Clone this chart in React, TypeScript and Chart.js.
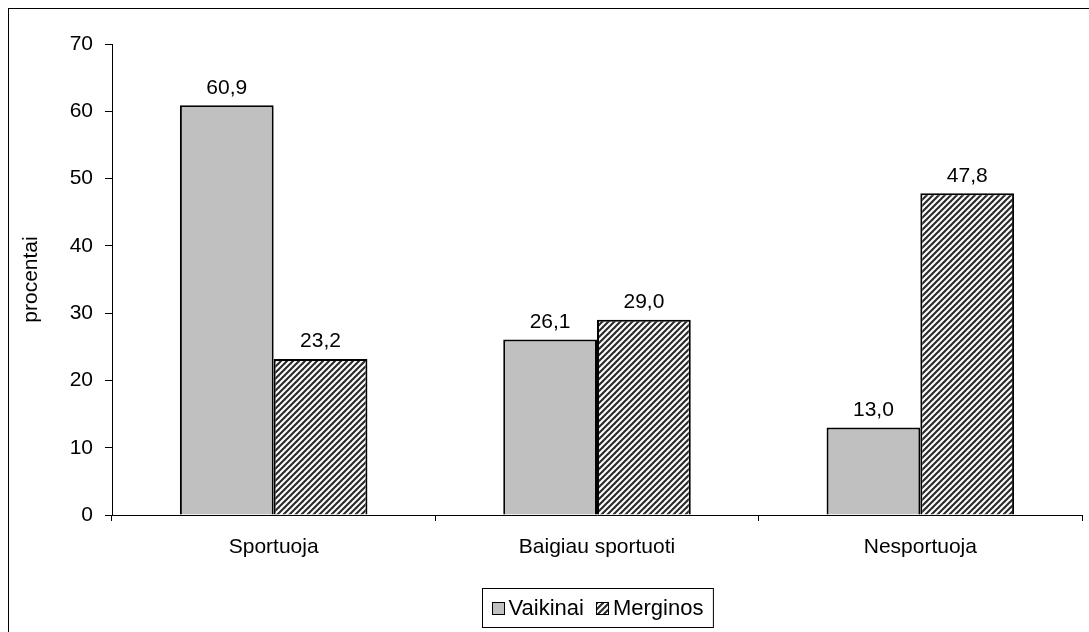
import React, { useEffect, useRef } from 'react';
import { Chart, registerables } from 'chart.js';

Chart.register(...registerables);

const categories = ['Sportuoja', 'Baigiau sportuoti', 'Nesportuoja'];
const seriesNames = ['Vaikinai', 'Merginos'];
const vaikinai = [60.9, 26.1, 13.0];
const merginos = [23.2, 29.0, 47.8];
const yAxisTitle = 'procentai';
const yMin = 0;
const yMax = 70;
const yStep = 10;

const FONT = '"Liberation Sans", Arial, sans-serif';

function makeHatch(): CanvasPattern | string {
  const s = 6;
  const c = document.createElement('canvas');
  c.width = s;
  c.height = s;
  const g = c.getContext('2d');
  if (!g) return '#888';
  g.fillStyle = '#ffffff';
  g.fillRect(0, 0, s, s);
  g.strokeStyle = '#2a2a2a';
  g.lineWidth = 2.1;
  for (const k of [-s, 0, s]) {
    g.beginPath();
    g.moveTo(k - 1, s + 1);
    g.lineTo(k + s + 1, -1);
    g.stroke();
  }
  return g.createPattern(c, 'repeat') || '#888';
}

const fmt = (v: number) => v.toFixed(1).replace('.', ',');

export default function App() {
  const ref = useRef<HTMLCanvasElement | null>(null);

  useEffect(() => {
    const canvas = ref.current;
    if (!canvas) return;
    const hatch = makeHatch();
    const gray = '#c0c0c0';

    const valueLabels = {
      id: 'valueLabels',
      afterDatasetsDraw(chart: any) {
        const ctx = chart.ctx;
        ctx.save();
        ctx.font = `21px ${FONT}`;
        ctx.fillStyle = '#000';
        ctx.textAlign = 'center';
        ctx.textBaseline = 'bottom';
        chart.data.datasets.forEach((ds: any, di: number) => {
          const meta = chart.getDatasetMeta(di);
          meta.data.forEach((el: any, i: number) => {
            ctx.fillText(fmt(ds.data[i]), el.x, el.y - 7);
          });
        });
        ctx.restore();
      },
    };

    const boxLegend = {
      id: 'boxLegend',
      afterDraw(chart: any) {
        const ctx = chart.ctx;
        const area = chart.chartArea;
        ctx.save();
        ctx.font = `22px ${FONT}`;
        const sq = 12;
        const gap = 5;
        const between = 12;
        const padL = 9;
        const padR = 10;
        const widths = seriesNames.map((n) => ctx.measureText(n).width);
        const total = padL + padR + widths.reduce((a, w) => a + sq + gap + w, 0) + between;
        const cx = (area.left + area.right) / 2;
        const left = Math.round(cx - total / 2) + 0.5;
        const top = 579.5;
        const h = 39;
        ctx.strokeStyle = '#000';
        ctx.lineWidth = 1;
        ctx.fillStyle = '#fff';
        ctx.fillRect(left, top, total, h);
        ctx.strokeRect(left, top, total, h);
        const cy = top + h / 2;
        let x = left + padL;
        const fills = [gray, hatch];
        seriesNames.forEach((n, i) => {
          ctx.fillStyle = fills[i] as any;
          const sy = Math.round(cy - sq / 2) + 0.5;
          ctx.fillRect(Math.round(x) + 0.5, sy, sq, sq);
          ctx.strokeStyle = '#000';
          ctx.strokeRect(Math.round(x) + 0.5, sy, sq, sq);
          x += sq + gap;
          ctx.fillStyle = '#000';
          ctx.textAlign = 'left';
          ctx.textBaseline = 'middle';
          ctx.fillText(n, x, cy + 1);
          x += widths[i] + between;
        });
        ctx.restore();
      },
    };

    const chart = new Chart(canvas, {
      type: 'bar',
      data: {
        labels: categories,
        datasets: [
          {
            label: seriesNames[0],
            data: vaikinai,
            backgroundColor: gray,
            borderColor: '#000',
            borderWidth: 2,
            categoryPercentage: 0.58,
            barPercentage: 1,
          },
          {
            label: seriesNames[1],
            data: merginos,
            backgroundColor: hatch as any,
            borderColor: '#000',
            borderWidth: 2,
            categoryPercentage: 0.58,
            barPercentage: 1,
          },
        ],
      },
      options: {
        responsive: false,
        maintainAspectRatio: false,
        animation: false,
        devicePixelRatio: 1,
        layout: { padding: { left: 0, right: 7, top: 35, bottom: 72 } },
        plugins: {
          legend: { display: false },
          tooltip: { enabled: false },
        },
        scales: {
          x: {
            offset: true,
            grid: {
              offset: true,
              drawOnChartArea: false,
              drawTicks: true,
              tickLength: 6,
              color: '#000',
            },
            border: { display: true, color: '#000', width: 1 },
            ticks: {
              color: '#000',
              font: { family: FONT, size: 21 },
              padding: 14,
              maxRotation: 0,
            },
            afterFit: (scale: any) => {
              scale.height = 45;
            },
          },
          y: {
            min: yMin,
            max: yMax,
            grid: {
              drawOnChartArea: false,
              drawTicks: true,
              tickLength: 7,
              color: '#000',
            },
            border: { display: true, color: '#000', width: 1 },
            ticks: {
              stepSize: yStep,
              color: '#000',
              font: { family: FONT, size: 21 },
              padding: 12,
            },
            title: {
              display: true,
              text: yAxisTitle,
              color: '#000',
              font: { family: FONT, size: 21 },
              padding: { top: 10, bottom: 0 },
            },
            afterFit: (scale: any) => {
              scale.width = 103;
            },
          },
        },
      },
      plugins: [valueLabels, boxLegend],
    });

    return () => chart.destroy();
  }, []);

  return (
    <div
      style={{
        position: 'fixed',
        left: 8,
        top: 8,
        width: 1081,
        height: 624,
        borderLeft: '1px solid #000',
        borderTop: '1px solid #000',
        background: '#fff',
        overflow: 'hidden',
      }}
    >
      <canvas ref={ref} width={1080} height={623} style={{ display: 'block', width: 1080, height: 623 }} />
    </div>
  );
}
